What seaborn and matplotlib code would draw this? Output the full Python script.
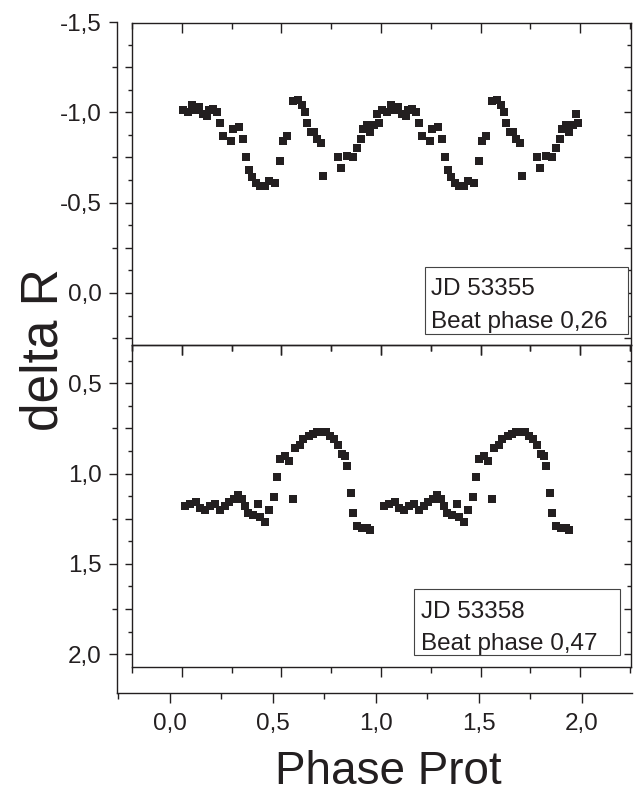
import numpy as np
import pandas as pd
import matplotlib
matplotlib.use("Agg")
import matplotlib.pyplot as plt
from matplotlib.ticker import MultipleLocator, FuncFormatter
from matplotlib.patches import Rectangle
import seaborn as sns

# ---------------- data (one rotation cycle, shown twice) ----------------
top_phase = [0.003, 0.032, 0.049, 0.065, 0.087, 0.107, 0.127, 0.137, 0.157, 0.178,
             0.191, 0.208, 0.245, 0.255, 0.288, 0.305, 0.322, 0.335, 0.350, 0.372,
             0.392, 0.417, 0.439, 0.467, 0.492, 0.506, 0.526, 0.556, 0.585, 0.601,
             0.618, 0.630, 0.647, 0.663, 0.677, 0.697, 0.710, 0.786, 0.797, 0.827,
             0.861, 0.881, 0.898, 0.908, 0.928, 0.945, 0.965, 0.978, 0.992]
top_dR = [-1.01, -1.00, -1.04, -1.01, -1.03, -0.99, -0.98, -1.01, -1.02, -1.00,
          -0.94, -0.87, -0.84, -0.91, -0.92, -0.85, -0.75, -0.68, -0.64, -0.61,
          -0.59, -0.59, -0.62, -0.61, -0.73, -0.84, -0.87, -1.06, -1.07, -1.04,
          -1.00, -0.94, -0.89, -0.89, -0.85, -0.83, -0.65, -0.75, -0.69, -0.76,
          -0.75, -0.80, -0.85, -0.91, -0.93, -0.89, -0.93, -0.99, -0.94]

bot_phase = [0.015, 0.040, 0.070, 0.090, 0.116, 0.141, 0.166, 0.191, 0.216, 0.238,
             0.261, 0.283, 0.300, 0.317, 0.333, 0.358, 0.384, 0.392, 0.417, 0.439,
             0.462, 0.476, 0.492, 0.518, 0.539, 0.556, 0.568, 0.593, 0.610, 0.640,
             0.660, 0.677, 0.702, 0.724, 0.744, 0.764, 0.786, 0.802, 0.819, 0.831,
             0.848, 0.861, 0.878, 0.903, 0.928, 0.945]
bot_dR = [1.18, 1.17, 1.16, 1.19, 1.20, 1.18, 1.17, 1.20, 1.18, 1.16,
          1.14, 1.12, 1.14, 1.18, 1.22, 1.23, 1.17, 1.24, 1.27, 1.20,
          1.13, 1.02, 0.92, 0.90, 0.93, 1.14, 0.86, 0.84, 0.81, 0.79,
          0.78, 0.77, 0.77, 0.77, 0.79, 0.81, 0.84, 0.89, 0.90, 0.96,
          1.11, 1.22, 1.29, 1.30, 1.30, 1.31]

top_label = "JD 53355\nBeat phase 0,26"
bot_label = "JD 53358\nBeat phase 0,47"
x_ticks = [0.0, 0.5, 1.0, 1.5, 2.0]
y_ticks = [-1.5, -1.0, -0.5, 0.0, 0.5, 1.0, 1.5, 2.0]

def two_cycles(ph, val):
    ph = np.asarray(ph)
    return pd.DataFrame({"phase": np.concatenate([ph, ph + 1.0]),
                         "dR": np.concatenate([val, val])})

df_top = two_cycles(top_phase, top_dR)
df_bot = two_cycles(bot_phase, bot_dR)

# ---------------- style ----------------
sns.set_theme(style="white")
plt.rcParams["font.family"] = ["Liberation Sans", "DejaVu Sans"]
plt.rcParams["axes.linewidth"] = 1.0
INK = "#231f20"

W, H = 635, 801
fig = plt.figure(figsize=(W / 100, H / 100), dpi=100)

def rect(l, r, t, b):
    return [l / W, 1 - b / H, (r - l) / W, (b - t) / H]

comma = FuncFormatter(lambda v, p: f"{v:.1f}".replace(".", ","))

# outer frame axis with labels
ax0 = fig.add_axes(rect(117, 632, 22, 693))
ax0.set_xlim(-0.257, 2.243)
ax0.set_ylim(2.215, -1.5)
ax0.patch.set_alpha(0)
for s in ["top", "right"]:
    ax0.spines[s].set_visible(False)
for s in ["left", "bottom"]:
    ax0.spines[s].set_color(INK)
ax0.set_xticks(x_ticks)
ax0.set_yticks(y_ticks)
ax0.xaxis.set_minor_locator(MultipleLocator(0.25))
ax0.yaxis.set_minor_locator(MultipleLocator(0.25))
ax0.xaxis.set_major_formatter(comma)
ax0.yaxis.set_major_formatter(comma)
ax0.tick_params(axis="x", which="major", direction="out", length=7.5, width=1.0,
                color=INK, labelsize=17.5, labelcolor=INK, pad=7)
ax0.tick_params(axis="x", which="minor", direction="out", length=4.5, width=1.0, color=INK)
ax0.tick_params(axis="y", which="major", direction="out", length=6, width=1.0,
                color=INK, labelsize=17.5, labelcolor=INK, pad=5)
ax0.tick_params(axis="y", which="minor", direction="out", length=3.8, width=1.0, color=INK)
ax0.tick_params(bottom=True, left=True, which="both")
ax0.grid(False)

def panel(box, ylim, df, label, lab_xy):
    ax = fig.add_axes(rect(*box))
    ax.patch.set_alpha(0)
    sns.scatterplot(data=df, x="phase", y="dR", ax=ax, marker="s", s=38,
                    color=INK, linewidth=0, legend=False)
    ax.set_xlim(-0.251, 2.256)
    ax.set_ylim(*ylim)
    ax.set_xlabel("")
    ax.set_ylabel("")
    for s in ax.spines.values():
        s.set_color(INK)
        s.set_linewidth(1.0)
    ax.xaxis.set_major_locator(MultipleLocator(0.5))
    ax.xaxis.set_minor_locator(MultipleLocator(0.25))
    ax.yaxis.set_major_locator(MultipleLocator(0.25))
    ax.yaxis.set_minor_locator(MultipleLocator(0.125))
    ax.tick_params(which="both", labelbottom=False, labelleft=False,
                   bottom=True, left=True, top=False, right=False,
                   direction="out", color=INK, width=1.0)
    ax.tick_params(axis="x", which="major", length=7.5)
    ax.tick_params(axis="x", which="minor", length=4.5)
    ax.tick_params(axis="y", which="major", length=5)
    ax.tick_params(axis="y", which="minor", length=3)
    ax.grid(False)
    # top / right ticks pointing inward
    sx = ax.secondary_xaxis("top")
    sx.xaxis.set_major_locator(MultipleLocator(0.5))
    sx.xaxis.set_minor_locator(MultipleLocator(0.25))
    sx.tick_params(which="both", direction="in", labeltop=False, color=INK, width=1.0)
    sx.tick_params(which="major", length=7.5)
    sx.tick_params(which="minor", length=4.5)
    sx.spines["top"].set_visible(False)
    sy = ax.secondary_yaxis("right")
    sy.yaxis.set_major_locator(MultipleLocator(0.25))
    sy.yaxis.set_minor_locator(MultipleLocator(0.125))
    sy.tick_params(which="both", direction="in", labelright=False, color=INK, width=1.0)
    sy.tick_params(which="major", length=5)
    sy.tick_params(which="minor", length=3)
    sy.spines["right"].set_visible(False)
    # label box
    bx0, bx1, by0, by1, tx, ty1, ty2 = lab_xy
    fig.patches.append(Rectangle((bx0 / W, 1 - by1 / H), (bx1 - bx0) / W, (by1 - by0) / H,
                                 transform=fig.transFigure, facecolor="white",
                                 edgecolor="#444444", linewidth=0.8, zorder=5))
    l1, l2 = label.split("\n")
    fig.text(tx / W, 1 - ty1 / H, l1, fontsize=17.5, color=INK, ha="left", va="baseline", zorder=6)
    fig.text(tx / W, 1 - ty2 / H, l2, fontsize=17.5, color=INK, ha="left", va="baseline", zorder=6)
    return ax

panel((132, 631, 23, 345), (0.288, -1.494), df_top, top_label,
      (425, 628, 267, 334, 431, 295, 328))
panel((132, 631, 345, 667), (2.071, 0.288), df_bot, bot_label,
      (414, 620, 589, 655, 421, 618, 650))

fig.text(388 / W, 1 - 772 / H, "Phase Prot", fontsize=33, color=INK,
         ha="center", va="center")
fig.text(44 / W, 1 - 350 / H, "delta R", fontsize=37, color=INK,
         ha="center", va="center", rotation=90)

fig.savefig("out.png", dpi=100)
